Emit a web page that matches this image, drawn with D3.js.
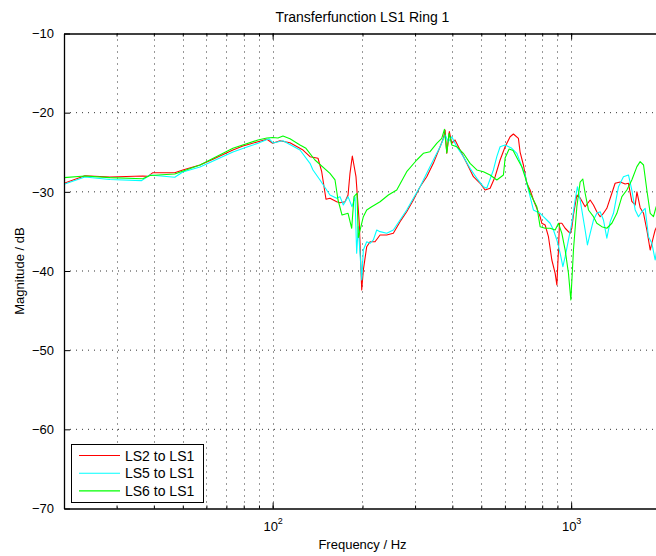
<!DOCTYPE html>
<html>
<head>
<meta charset="utf-8">
<script src="https://cdn.jsdelivr.net/npm/d3@7"></script>
<style>
  body { margin: 0; background: #fff; }
  svg { display: block; }
  text { font-family: "Liberation Sans", Arial, Helvetica, sans-serif; fill: #000; }
</style>
</head>
<body>
<svg id="chart" width="656" height="556"></svg>
<script>
// ---- chart text ----
const chartTitle = "Transferfunction LS1 Ring 1";
const xLabel = "Frequency / Hz";
const yLabel = "Magnitude / dB";
const seriesNames = ["LS2 to LS1", "LS5 to LS1", "LS6 to LS1"];
const seriesColors = ["#ff0000", "#00ffff", "#00ff00"];

// ---- axes ----
const xDomain = [20, 2000];
const yDomain = [-70, -10];
const yTicks = [-70, -60, -50, -40, -30, -20, -10];
const xMajorTicks = [100, 1000];
const xMinorTicks = [20, 30, 40, 50, 60, 70, 80, 90, 100,
                     200, 300, 400, 500, 600, 700, 800, 900, 1000, 2000];

// ---- measured transfer functions: [frequency Hz, magnitude dB] ----
const ls2 = [[20,-28.92],[23.5,-27.96],[28.5,-28.13],[36.7,-28.0],[38.2,-28.05],[39.7,-27.58],[47.0,-27.58],[50.0,-27.24],[57.1,-26.61],[63.1,-25.89],[73.6,-24.72],[79.5,-24.21],[83.9,-23.96],[89.3,-23.67],[95.7,-23.36],[100,-23.87],[105.8,-23.54],[114.3,-23.79],[126.4,-24.72],[133.4,-25.56],[141.9,-25.76],[146.0,-27.46],[150.9,-30.94],[155.6,-30.82],[163.9,-31.25],[168.1,-31.37],[174.8,-31.25],[178.9,-30.40],[181.6,-27.66],[184.9,-25.47],[190.2,-28.09],[195.1,-33.97],[198.8,-42.40],[201.3,-39.87],[206.6,-36.93],[212.0,-36.30],[220.3,-36.30],[229.0,-35.45],[241.1,-35.45],[253.7,-35.24],[267.2,-33.77],[281.3,-32.51],[296.1,-31.03],[311.8,-29.35],[328.3,-28.09],[345.4,-26.40],[363.9,-24.30],[373.3,-23.24],[378.2,-22.19],[383.2,-25.13],[390.8,-22.40],[398.2,-23.87],[408.4,-23.45],[424.5,-24.72],[447.1,-26.40],[470.5,-28.09],[495.5,-28.92],[514.9,-29.77],[535.2,-29.55],[556.3,-28.09],[578.1,-25.98],[600.9,-24.30],[624.5,-23.04],[640.6,-22.69],[665.8,-23.24],[674.5,-24.97],[692.0,-26.61],[710.4,-28.92],[728.7,-29.77],[747.5,-31.03],[767.4,-32.08],[787.3,-33.14],[797.7,-33.97],[818.2,-34.19],[839.4,-35.67],[861.7,-38.61],[884.0,-40.29],[895.7,-41.77],[906.8,-37.35],[913.9,-33.97],[930.9,-33.97],[954.9,-34.60],[992.2,-35.24],[1005,-34.60],[1018,-32.93],[1045,-30.40],[1072,-30.78],[1114,-31.88],[1158,-31.03],[1188,-31.66],[1219,-32.51],[1251,-33.14],[1283,-32.71],[1317,-32.08],[1369,-30.18],[1404,-28.92],[1460,-28.75],[1517,-29.0],[1556,-28.92],[1597,-31.2],[1639,-31.66],[1661,-30.0],[1703,-32.0],[1748,-32.71],[1793,-34.82],[1840,-37.35],[1887,-35.67],[1912,-34.82],[1960,-34.0]];

const ls5 = [[20,-29.05],[23.5,-28.13],[28.5,-28.44],[36.4,-28.59],[38.8,-27.87],[47.0,-28.16],[50.0,-27.49],[57.1,-26.86],[73.6,-24.97],[83.9,-24.21],[89.3,-23.87],[97.2,-23.29],[100.2,-23.83],[108.3,-23.54],[123.5,-24.72],[133.4,-26.40],[136.5,-27.24],[144.1,-28.50],[155.6,-30.40],[163.9,-30.82],[168.1,-30.61],[172.5,-31.66],[178.9,-30.61],[184.5,-31.88],[188.8,-30.61],[191.2,-37.76],[193.6,-34.40],[198.8,-41.14],[201.3,-37.35],[206.6,-36.30],[212.0,-36.50],[217.4,-36.08],[223.2,-34.82],[229.0,-35.03],[241.1,-35.24],[253.7,-34.82],[267.2,-33.56],[281.3,-32.29],[296.1,-30.82],[311.8,-29.35],[328.3,-27.66],[345.4,-25.98],[363.9,-24.30],[378.2,-22.82],[387.9,-23.67],[398.2,-23.04],[413.8,-24.30],[435.5,-25.56],[458.6,-27.03],[483.0,-28.29],[508.2,-29.35],[521.7,-29.55],[549.0,-27.24],[563.6,-25.56],[578.1,-24.30],[600.9,-24.08],[632.7,-24.50],[657.7,-25.13],[683.4,-26.82],[701.2,-27.87],[710.4,-28.92],[728.7,-30.61],[747.5,-32.29],[767.4,-32.51],[787.3,-32.71],[807.5,-33.14],[829.0,-33.56],[850.4,-33.97],[872.4,-34.82],[895.7,-36.08],[918.8,-37.76],[938.2,-39.46],[954.9,-38.19],[979.5,-36.08],[1005,-33.97],[1031,-31.03],[1050,-29.35],[1072,-31.03],[1114,-34.82],[1134,-36.7],[1158,-35.24],[1188,-33.56],[1219,-32.71],[1251,-32.51],[1283,-33.56],[1317,-35.85],[1351,-33.8],[1386,-32.71],[1441,-29.35],[1497,-28.09],[1556,-27.87],[1597,-29.77],[1639,-32.29],[1681,-33.14],[1726,-32.51],[1770,-32.08],[1816,-35.67],[1864,-36.50],[1912,-38.61],[1960,-36.0]];

const ls6 = [[20,-28.21],[23.5,-28.0],[28.5,-28.21],[36.7,-28.34],[38.8,-27.94],[47.0,-27.75],[57.1,-26.61],[73.6,-24.50],[89.3,-23.45],[95.7,-23.2],[100,-23.13],[104.2,-23.2],[108.3,-22.95],[114.3,-23.3],[123.5,-24.08],[129.3,-24.5],[138.6,-25.98],[155.6,-27.66],[161.8,-28.50],[165.6,-31.03],[170.8,-32.93],[178.9,-32.71],[184.0,-34.60],[187.3,-30.61],[191.7,-30.18],[193.6,-35.77],[201.3,-33.14],[206.6,-32.29],[214.7,-31.88],[229.0,-31.25],[244.1,-30.40],[260.5,-29.77],[281.3,-27.46],[303.9,-25.98],[319.8,-25.13],[336.8,-24.93],[354.6,-23.87],[368.6,-23.24],[376.2,-22.10],[383.2,-25.09],[389.9,-22.61],[398.2,-24.08],[413.8,-24.30],[435.5,-25.13],[458.6,-26.40],[483.0,-27.24],[508.2,-27.46],[535.2,-27.87],[563.6,-28.50],[593.1,-27.87],[600.9,-25.73],[619.7,-24.59],[639.1,-24.78],[664.2,-25.98],[683.4,-26.82],[701.2,-28.13],[728.7,-30.18],[767.4,-31.88],[787.3,-34.40],[818.2,-34.60],[850.4,-34.60],[884.0,-34.82],[906.8,-33.97],[930.9,-35.24],[954.9,-37.35],[979.5,-40.29],[997.7,-43.66],[1018,-37.35],[1045,-31.88],[1072,-28.76],[1094,-28.38],[1114,-30.18],[1143,-32.29],[1188,-33.14],[1219,-33.97],[1267,-34.40],[1317,-34.60],[1369,-33.97],[1423,-32.71],[1479,-30.61],[1537,-29.77],[1597,-28.50],[1661,-26.82],[1703,-26.19],[1748,-26.61],[1793,-29.77],[1840,-32.71],[1887,-33.14],[1927,-31.88],[1960,-31.5]];

const seriesData = [ls2, ls5, ls6];

// ---- layout ----
const plot = { left: 64, top: 33.5, right: 661, bottom: 508.5 };

const svg = d3.select("#chart");

const x = d3.scaleLog().domain(xDomain).range([plot.left, plot.right]);
const y = d3.scaleLinear().domain(yDomain).range([plot.bottom, plot.top]);

svg.append("defs").append("clipPath").attr("id", "plot-clip")
  .append("rect")
  .attr("x", plot.left).attr("y", plot.top)
  .attr("width", plot.right - plot.left).attr("height", plot.bottom - plot.top);

// dotted grid
const grid = svg.append("g").attr("class", "grid")
  .attr("stroke", "#333").attr("stroke-width", 1).attr("stroke-dasharray", "1,5");

grid.selectAll("line.v")
  .data(xMinorTicks.filter(d => d > xDomain[0] && d < xDomain[1]))
  .join("line").attr("class", "v")
  .attr("x1", d => Math.round(x(d)) + 0.5).attr("x2", d => Math.round(x(d)) + 0.5)
  .attr("y1", plot.top).attr("y2", plot.bottom);

grid.selectAll("line.h")
  .data(yTicks.filter(d => d > yDomain[0] && d < yDomain[1]))
  .join("line").attr("class", "h")
  .attr("x1", plot.left).attr("x2", plot.right)
  .attr("y1", d => y(d)).attr("y2", d => y(d));

// series
const line = d3.line().x(d => x(d[0])).y(d => y(d[1]));
svg.append("g").attr("clip-path", "url(#plot-clip)")
  .selectAll("path")
  .data(seriesData)
  .join("path")
  .attr("fill", "none")
  .attr("stroke", (d, i) => seriesColors[i])
  .attr("stroke-width", 1.1)
  .attr("stroke-linejoin", "round")
  .attr("d", line);

// left axis, inward ticks
const yAxis = d3.axisLeft(y).tickValues(yTicks).tickSizeInner(-6).tickSizeOuter(0)
  .tickPadding(10).tickFormat(d3.format("d"));
const gy = svg.append("g").attr("transform", `translate(${plot.left},0)`).call(yAxis);
gy.select(".domain").attr("stroke-width", 1.3);
gy.selectAll(".tick text").attr("font-size", 13).attr("font-family", null);

// bottom axis: minor ticks, then major ticks with 10^n labels
const xMinorAxis = d3.axisBottom(x).tickValues(xMinorTicks).tickSizeInner(-3).tickSizeOuter(0).tickFormat("");
const gxm = svg.append("g").attr("transform", `translate(0,${plot.bottom})`).call(xMinorAxis);
gxm.select(".domain").attr("stroke-width", 1.3);

const xMajorAxis = d3.axisBottom(x).tickValues(xMajorTicks).tickSizeInner(-6).tickSizeOuter(0).tickFormat("");
const gxM = svg.append("g").attr("transform", `translate(0,${plot.bottom})`).call(xMajorAxis);
gxM.select(".domain").remove();
gxM.selectAll(".tick").append("text")
  .attr("y", 22).attr("text-anchor", "middle").attr("font-size", 13)
  .each(function (d) {
    const t = d3.select(this);
    t.append("tspan").text("10");
    t.append("tspan").attr("dy", -7).attr("font-size", 9).text(String(Math.round(Math.log10(d))));
  });

// top axis (box), ticks pointing down
const xTopMinor = d3.axisTop(x).tickValues(xMinorTicks).tickSizeInner(-3).tickSizeOuter(0).tickFormat("");
const gtm = svg.append("g").attr("transform", `translate(0,${plot.top})`).call(xTopMinor);
gtm.select(".domain").attr("stroke-width", 1.3);
const xTopMajor = d3.axisTop(x).tickValues(xMajorTicks).tickSizeInner(-6).tickSizeOuter(0).tickFormat("");
svg.append("g").attr("transform", `translate(0,${plot.top})`).call(xTopMajor).select(".domain").remove();

// titles
svg.append("text").attr("x", (plot.left + plot.right) / 2).attr("y", 21.5)
  .attr("text-anchor", "middle").attr("font-size", 14).text(chartTitle);
svg.append("text").attr("x", (plot.left + plot.right) / 2).attr("y", 549)
  .attr("text-anchor", "middle").attr("font-size", 13).text(xLabel);
svg.append("text")
  .attr("transform", `translate(24,${(plot.top + plot.bottom) / 2}) rotate(-90)`)
  .attr("text-anchor", "middle").attr("font-size", 13).text(yLabel);

// legend
const legend = svg.append("g").attr("class", "legend");
legend.append("rect").attr("x", 71.5).attr("y", 444.5).attr("width", 132).attr("height", 58)
  .attr("fill", "#fff").attr("stroke", "#000").attr("stroke-width", 1);
const rows = legend.selectAll("g.row").data(seriesNames).join("g").attr("class", "row")
  .attr("transform", (d, i) => `translate(0,${455.5 + i * 17.7})`);
rows.append("line").attr("x1", 79).attr("x2", 120).attr("y1", 0).attr("y2", 0)
  .attr("stroke", (d, i) => seriesColors[i]).attr("stroke-width", 1.1);
rows.append("text").attr("x", 125).attr("y", 5).attr("font-size", 14).text(d => d);
</script>
</body>
</html>
